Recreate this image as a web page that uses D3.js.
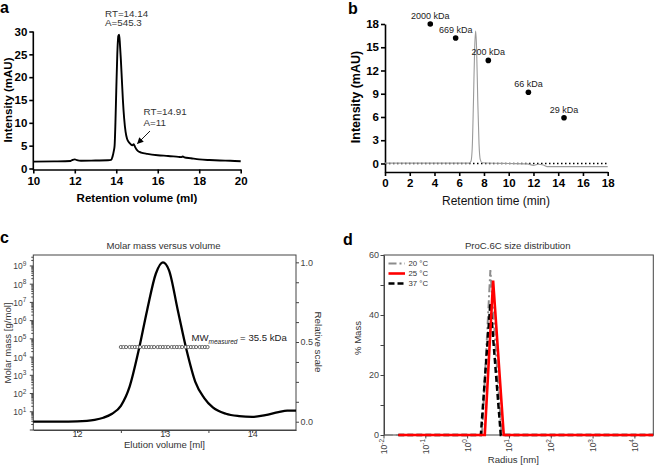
<!DOCTYPE html>
<html><head><meta charset="utf-8">
<script src="https://cdn.jsdelivr.net/npm/d3@7"></script>
<style>body{margin:0;background:#fff}svg{display:block}text{font-family:"Liberation Sans",Arial,sans-serif}</style>
</head><body><svg id="fig" width="655" height="466"></svg>
<script>
// ---------- Panel a data ----------
const aVolume = [10.0,11.0,11.8,11.9,12.0,12.1,12.3,13.0,13.6,13.75,13.82,13.88,13.92,13.96,14.0,14.05,14.1,14.14,14.18,14.22,14.27,14.32,14.38,14.45,14.52,14.6,14.7,14.78,14.84,14.9,14.97,15.05,15.2,15.5,16.0,16.5,17.0,17.15,17.2,17.28,17.6,18.0,18.5,19.0,19.5,20.0];
const aIntensity = [1.5,1.55,1.65,1.9,2.0,1.85,1.7,1.75,1.8,1.9,2.6,3.8,5.0,10,17,25,29,29.3,27,24,19.5,15,11,8,6.5,5.8,5.3,5.1,5.3,4.8,4.2,3.8,3.5,3.2,2.9,2.75,2.55,2.5,2.65,2.45,2.25,2.0,1.85,1.75,1.7,1.6];
const aXTicks = [10,12,14,16,18,20];
const aYTicks = [0,5,10,15,20,25,30];

// ---------- Panel b data ----------
const bTime = [0,6.8,6.95,7.05,7.15,7.25,7.33,7.4,7.5,7.6,7.7,7.85,10,11.5,12.0,12.4,12.8,13.1,18];
const bIntensity = [0.05,0.05,0.3,2,8,15,17.1,15,8,2.5,0.5,0.1,0.0,-0.05,-0.25,-0.1,-0.2,-0.4,-0.4];
const bStdTime = [3.66,5.71,8.35,11.59,14.47];
const bStdValue = [18.0,16.2,13.3,9.2,5.9];
const bStdLabel = ["2000 kDa","669 kDa","200 kDa","66 kDa","29 kDa"];
const bXTicks = [0,2,4,6,8,10,12,14,16,18];
const bYTicks = [0,3,6,9,12,15,18];

// ---------- Panel c data ----------
const cVolume = [11.5,11.8,12.0,12.2,12.3,12.4,12.5,12.6,12.7,12.8,12.9,12.98,13.05,13.15,13.25,13.35,13.45,13.55,13.7,13.85,14.0,14.15,14.3,14.4,14.5];
const cRelative = [0.0,0.0,0.002,0.012,0.025,0.05,0.1,0.22,0.44,0.7,0.93,1.0,0.95,0.7,0.45,0.25,0.15,0.09,0.05,0.035,0.03,0.042,0.06,0.069,0.07];
const cMwVolume = [12.50,12.53,12.56,12.60,12.63,12.66,12.69,12.72,12.76,12.79,12.82,12.85,12.88,12.92,12.95,12.98,13.01,13.04,13.08,13.11,13.14,13.17,13.20,13.24,13.27,13.30,13.33,13.36,13.40,13.43,13.46,13.49];
const cMwValue = [35500,35500,35500,35500,35500,35500,35500,35500,35500,35500,35500,35500,35500,35500,35500,35500,35500,35500,35500,35500,35500,35500,35500,35500,35500,35500,35500,35500,35500,35500,35500,35500];
const cXTicks = [12,12.5,13,13.5,14];
const cXLabels = [12,13,14];
const cLogExp = [1,2,3,4,5,6,7,8,9];
const cRelTicks = [0,0.125,0.25,0.375,0.5,0.625,0.75,0.875,1.0];
const cRelLabels = [0,0.5,1.0];

// ---------- Panel d data ----------
const d20Radius = [0.0105,2.2,3.5,6.5,27500];
const d20Mass = [0,0,55,0,0];
const d25Radius = [0.022,2.57,4.07,7.3,27500];
const d25Mass = [0,0,51.5,0,0];
const d37Radius = [0.022,2.07,3.5,6.2,27500];
const d37Mass = [0,0,44,0,0];
const dXExp = [-2,-1,0,1,2,3,4];
const dYTicks = [0,10,20,30,40,50,60];
const dYLabels = [0,20,40,60];
const dLegend = ["20 °C","25 °C","37 °C"];

const svg = d3.select("#fig");
svg.append("rect").attr("width",655).attr("height",466).attr("fill","#fff");

function styleAxis(g, sw, col){
  g.selectAll("path.domain").attr("stroke",col).attr("stroke-width",sw);
  g.selectAll(".tick line").attr("stroke",col).attr("stroke-width",sw);
}
function panelLabel(t,x,y){
  svg.append("text").attr("x",x).attr("y",y).attr("font-size",16).attr("font-weight","bold").text(t);
}

// ================= Panel a =================
{
  const x = d3.scaleLinear().domain([10,20]).range([33.3,240.7]);
  const y = d3.scaleLinear().domain([0,30]).range([168.5,31.5]);
  const gx = svg.append("g").attr("transform","translate(0,169.5)")
    .call(d3.axisBottom(x).tickValues(aXTicks).tickSize(4).tickSizeOuter(0).tickPadding(3));
  const gy = svg.append("g").attr("transform","translate(33.3,0)")
    .call(d3.axisLeft(y).tickValues(aYTicks).tickSize(4).tickSizeOuter(0).tickPadding(2));
  gy.select("path.domain").attr("d","M0,31.5V170.2");
  [gx,gy].forEach(g=>{styleAxis(g,1.6,"#000");g.selectAll("text").attr("font-size",11.5).attr("font-weight","bold").attr("fill","#000").attr("font-family",null);});
  svg.append("path").datum(aVolume.map((v,i)=>[v,aIntensity[i]]))
    .attr("d",d3.line().x(d=>x(d[0])).y(d=>y(d[1])).curve(d3.curveMonotoneX))
    .attr("fill","none").attr("stroke","#000").attr("stroke-width",1.9);
  svg.append("text").attr("x",12).attr("y",100).attr("transform","rotate(-90,12,100)")
    .attr("text-anchor","middle").attr("font-size",11.5).attr("font-weight","bold").text("Intensity (mAU)");
  svg.append("text").attr("x",137).attr("y",201.5).attr("text-anchor","middle")
    .attr("font-size",11.5).attr("font-weight","bold").text("Retention volume (ml)");
  const ann = svg.append("g").attr("font-size",9.8).attr("fill","#333");
  ann.append("text").attr("x",105).attr("y",16.5).text("RT=14.14");
  ann.append("text").attr("x",105).attr("y",26).text("A=545.3");
  ann.append("text").attr("x",143.5).attr("y",115).text("RT=14.91");
  ann.append("text").attr("x",143.5).attr("y",125.5).text("A=11");
  svg.append("defs").append("marker").attr("id","arr").attr("viewBox","0 0 10 10").attr("refX",9).attr("refY",5)
    .attr("markerWidth",7).attr("markerHeight",7).attr("orient","auto")
    .append("path").attr("d","M0,0L10,5L0,10z").attr("fill","#000");
  svg.append("line").attr("x1",150).attr("y1",131).attr("x2",137.5).attr("y2",143.5)
    .attr("stroke","#000").attr("stroke-width",0.9).attr("marker-end","url(#arr)");
  panelLabel("a",0,13);
}

// ================= Panel b =================
{
  const x = d3.scaleLinear().domain([0,18]).range([385,607.7]);
  const y = d3.scaleLinear().domain([-1.1,18]).range([172,24]);
  const gx = svg.append("g").attr("transform","translate(0,172)")
    .call(d3.axisBottom(x).tickValues(bXTicks).tickSize(4).tickSizeOuter(0).tickPadding(3));
  const gy = svg.append("g").attr("transform","translate(385,0)")
    .call(d3.axisLeft(y).tickValues(bYTicks).tickSize(4).tickSizeOuter(0).tickPadding(2));
  [gx,gy].forEach(g=>{styleAxis(g,1.6,"#000");g.selectAll("text").attr("font-size",11.5).attr("font-weight","bold").attr("fill","#000").attr("font-family",null);});
  svg.append("line").attr("x1",x(0)).attr("x2",x(18)).attr("y1",y(0)).attr("y2",y(0))
    .attr("stroke","#000").attr("stroke-width",1.3).attr("stroke-dasharray","1.5,2.5");
  svg.append("path").datum(bTime.map((v,i)=>[v,bIntensity[i]]))
    .attr("d",d3.line().x(d=>x(d[0])).y(d=>y(d[1])).curve(d3.curveMonotoneX))
    .attr("fill","none").attr("stroke","#9a9a9a").attr("stroke-width",1.1);
  svg.selectAll("circle.std").data(bStdTime).enter().append("circle").attr("class","std")
    .attr("cx",d=>x(d)).attr("cy",(d,i)=>y(bStdValue[i])).attr("r",2.8).attr("fill","#000");
  svg.selectAll("text.stdl").data(bStdLabel).enter().append("text").attr("class","stdl")
    .attr("x",(d,i)=>x(bStdTime[i])).attr("y",(d,i)=>y(bStdValue[i])-5)
    .attr("text-anchor","middle").attr("font-size",9).attr("fill","#222").text(d=>d);
  svg.append("text").attr("x",359.5).attr("y",97).attr("transform","rotate(-90,359.5,97)")
    .attr("text-anchor","middle").attr("font-size",12.5).attr("font-weight","bold").text("Intensity (mAU)");
  svg.append("text").attr("x",496).attr("y",205).attr("text-anchor","middle")
    .attr("font-size",12).attr("fill","#111").text("Retention time (min)");
  panelLabel("b",348,13.5);
}

// ================= Panel c =================
{
  const L=33.3,R=296,T=255,B=430;
  const x = d3.scaleLinear().domain([11.5,14.5]).range([L,R]);
  const yL = d3.scaleLog().domain([1,Math.pow(10,9.6)]).range([B,T]);
  const yR = d3.scaleLinear().domain([-0.052,1.046]).range([B,T]);
  const col="#444";
  svg.append("rect").attr("x",L).attr("y",T).attr("width",R-L).attr("height",B-T)
    .attr("fill","none").attr("stroke",col).attr("stroke-width",1);
  const gx = svg.append("g").attr("transform",`translate(0,${B})`)
    .call(d3.axisBottom(x).tickValues(cXTicks).tickSize(3).tickSizeOuter(0).tickFormat(d=>cXLabels.includes(d)?d:""));
  styleAxis(gx,1,col);
  gx.selectAll("text").attr("y",1).attr("font-size",9).attr("fill","#333").attr("font-family",null);
  // left log axis with minor ticks
  const gl = svg.append("g");
  yL.ticks().forEach(v=>{
    const e = Math.log10(v);
    const major = Math.abs(e-Math.round(e))<1e-9;
    gl.append("line").attr("x1",L).attr("x2",L-(major?3.5:2)).attr("y1",yL(v)).attr("y2",yL(v))
      .attr("stroke",col).attr("stroke-width",1);
  });
  cLogExp.forEach(e=>{
    const t = gl.append("text").attr("x",L-13.5).attr("y",yL(Math.pow(10,e))+3.5)
      .attr("text-anchor","middle").attr("font-size",8.5).attr("fill","#444");
    t.append("tspan").text("10");
    t.append("tspan").attr("dy",-3.5).attr("font-size",6.5).text(e);
  });
  // right axis
  const gr = svg.append("g").attr("transform",`translate(${R},0)`)
    .call(d3.axisRight(yR).tickValues(cRelTicks).tickSize(3).tickSizeOuter(0).tickPadding(1.5)
      .tickFormat(d=>cRelLabels.includes(d)?d3.format(".1f")(d):""));
  styleAxis(gr,1,col);
  gr.select("path.domain").remove();
  gr.selectAll("text").attr("font-size",9).attr("fill","#444").attr("font-family",null);
  // curve
  svg.append("path").datum(cVolume.map((v,i)=>[v,cRelative[i]]))
    .attr("d",d3.line().x(d=>x(d[0])).y(d=>yR(d[1])).curve(d3.curveMonotoneX))
    .attr("fill","none").attr("stroke","#000").attr("stroke-width",2.3);
  svg.selectAll("circle.mw").data(cMwVolume).enter().append("circle").attr("class","mw")
    .attr("cx",d=>x(d)).attr("cy",(d,i)=>yL(cMwValue[i])).attr("r",1.6)
    .attr("fill","#fff").attr("stroke","#444").attr("stroke-width",0.8);
  const mw = svg.append("text").attr("x",191.5).attr("y",341).attr("font-size",9.6).attr("fill","#222");
  mw.append("tspan").text("MW");
  mw.append("tspan").attr("dy",2.5).attr("font-size",6.5).attr("font-style","italic").text("measured");
  mw.append("tspan").attr("dy",-2.5).text(" = 35.5 kDa");
  svg.append("text").attr("x",163.5).attr("y",248.5).attr("text-anchor","middle")
    .attr("font-size",9.6).attr("fill","#333").text("Molar mass versus volume");
  svg.append("text").attr("x",164.5).attr("y",447.5).attr("text-anchor","middle")
    .attr("font-size",9.6).attr("fill","#333").text("Elution volume [ml]");
  svg.append("text").attr("x",10.5).attr("y",343).attr("transform","rotate(-90,10.5,343)")
    .attr("text-anchor","middle").attr("font-size",9.6).attr("fill","#333").text("Molar mass [g/mol]");
  svg.append("text").attr("x",314.5).attr("y",342).attr("transform","rotate(90,314.5,342)")
    .attr("text-anchor","middle").attr("font-size",9.8).attr("fill","#333").text("Relative scale");
  panelLabel("c",0,243);
}

// ================= Panel d =================
{
  const L=384,R=653.3,T=255,B=435;
  const x = d3.scaleLog().domain([0.01,Math.pow(10,4.44)]).range([L,R]);
  const y = d3.scaleLinear().domain([0,60]).range([B,T]);
  const col="#444";
  svg.append("rect").attr("x",L).attr("y",T).attr("width",R-L).attr("height",B-T)
    .attr("fill","none").attr("stroke",col).attr("stroke-width",1);
  const gy = svg.append("g").attr("transform",`translate(${L},0)`)
    .call(d3.axisLeft(y).tickValues(dYTicks).tickSize(3.5).tickSizeOuter(0).tickPadding(1.5)
      .tickFormat(d=>dYLabels.includes(d)?d:""));
  styleAxis(gy,1,col);
  gy.selectAll("text").attr("font-size",9).attr("fill","#444").attr("font-family",null);
  const gx = svg.append("g");
  dXExp.forEach(e=>{
    const px = x(Math.pow(10,e));
    gx.append("line").attr("x1",px).attr("x2",px).attr("y1",B).attr("y2",B+3.5).attr("stroke",col);
    const t = gx.append("text").attr("transform",`translate(${px+3},${B+4}) rotate(-90)`)
      .attr("text-anchor","end").attr("font-size",8.5).attr("fill","#444");
    t.append("tspan").text("10");
    t.append("tspan").attr("dy",-3.5).attr("font-size",6.5).text(e);
  });
  const line = d3.line().x(d=>x(d[0])).y(d=>y(d[1]));
  const series = [
    {r:d20Radius,m:d20Mass,c:"#8c8c8c",w:2,dash:"8,3,2,3"},
    {r:d37Radius,m:d37Mass,c:"#000",w:2.5,dash:"6,3"},
    {r:d25Radius,m:d25Mass,c:"#f00",w:2.6,dash:null}
  ];
  series.forEach(s=>{
    svg.append("path").datum(s.r.map((v,i)=>[v,s.m[i]])).attr("d",line)
      .attr("fill","none").attr("stroke",s.c).attr("stroke-width",s.w).attr("stroke-dasharray",s.dash);
  });
  const legOrder = [series[0],series[2],series[1]];
  legOrder.forEach((s,i)=>{
    const yy = 263.5+i*10;
    svg.append("line").attr("x1",388.5).attr("x2",405).attr("y1",yy).attr("y2",yy)
      .attr("stroke",s.c).attr("stroke-width",s.w).attr("stroke-dasharray",s.dash);
    svg.append("text").attr("x",408.5).attr("y",yy+2.8).attr("font-size",7.8).attr("fill","#333").text(dLegend[i]);
  });
  svg.append("text").attr("x",517.7).attr("y",248.5).attr("text-anchor","middle")
    .attr("font-size",9.6).attr("fill","#333").text("ProC.6C size distribution");
  svg.append("text").attr("x",513.3).attr("y",463).attr("text-anchor","middle")
    .attr("font-size",9.6).attr("fill","#333").text("Radius [nm]");
  svg.append("text").attr("x",361).attr("y",338).attr("transform","rotate(-90,361,338)")
    .attr("text-anchor","middle").attr("font-size",9.6).attr("fill","#333").text("% Mass");
  panelLabel("d",343,245);
}
</script></body></html>
